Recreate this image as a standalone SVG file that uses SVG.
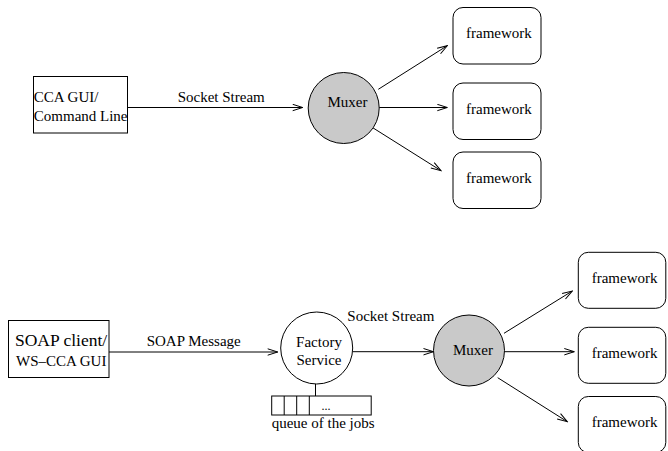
<svg xmlns="http://www.w3.org/2000/svg" width="668" height="451" viewBox="0 0 668 451">
<style>
text{font-family:"Liberation Serif","Times New Roman",serif;font-size:15px;fill:#000}
.box{fill:#fff;stroke:#000;stroke-width:1}
.mux{fill:#c9c9c9;stroke:#000;stroke-width:1}
.fac{fill:#fff;stroke:#000;stroke-width:1}
.ln{stroke:#000;stroke-width:1;fill:none}
.arr{stroke:#000;stroke-width:1;fill:none;marker-end:url(#ah)}
</style>
<defs>
<marker id="ah" markerWidth="12" markerHeight="8" viewBox="-11 -4 12 8" refX="0" refY="0" orient="auto" markerUnits="userSpaceOnUse">
<path d="M-10,-3.2 L0,0 L-10,3.2" fill="none" stroke="#000" stroke-width="1"/>
</marker>
</defs>
<rect width="668" height="451" fill="#fff"/>
<g id="connectors">
<line class="arr" x1="127.7" y1="107.5" x2="302.7" y2="107.5"/>
<line class="arr" x1="378.3" y1="89.3" x2="447.3" y2="45.7"/>
<line class="arr" x1="379.2" y1="107.5" x2="447.3" y2="107.5"/>
<line class="arr" x1="372.7" y1="127.7" x2="441" y2="170.7"/>
<line class="arr" x1="109" y1="352" x2="277.7" y2="352"/>
<line class="arr" x1="352.5" y1="351.7" x2="433.5" y2="351.7"/>
<line class="arr" x1="504" y1="333.3" x2="572.3" y2="291"/>
<line class="arr" x1="504.5" y1="351.7" x2="574.3" y2="351.7"/>
<line class="arr" x1="497.7" y1="377.7" x2="567.3" y2="421.7"/>
<line class="ln" x1="315.5" y1="384" x2="315.5" y2="396"/>
</g>
<g id="labels">
<text x="177.7" y="102">Socket Stream</text>
<text x="146.7" y="346">SOAP Message</text>
<text x="347.3" y="321">Socket Stream</text>
</g>
<g id="cca-gui">
<rect class="box" x="33.5" y="76.5" width="94" height="56.5"/>
<text x="33.8" y="101.7">CCA GUI/</text>
<text x="33.8" y="120.7">Command Line</text>
</g>
<g id="muxer1">
<circle class="mux" cx="343.7" cy="108" r="35.5"/>
<text x="347.5" y="106.7" text-anchor="middle">Muxer</text>
</g>
<g id="framework1">
<rect class="box" x="453" y="7.5" width="88" height="56.5" rx="10"/>
<text x="466" y="38">framework</text>
</g>
<g id="framework2">
<rect class="box" x="453" y="83" width="88" height="56.5" rx="10"/>
<text x="466" y="114.3">framework</text>
</g>
<g id="framework3">
<rect class="box" x="453" y="152" width="88" height="56.5" rx="10"/>
<text x="466" y="183.3">framework</text>
</g>
<g id="soap-client">
<rect class="box" x="8.5" y="320.5" width="100.5" height="57"/>
<text x="15" y="346" style="font-size:17.5px">SOAP client/</text>
<text x="16" y="365.5">WS–CCA GUI</text>
</g>
<g id="factory">
<circle class="fac" cx="316.7" cy="348" r="36"/>
<text x="319" y="346.5" text-anchor="middle">Factory</text>
<text x="319" y="365" text-anchor="middle">Service</text>
</g>
<g id="queue">
<rect class="box" x="271.7" y="396" width="99.5" height="19"/>
<line class="ln" x1="284.2" y1="396" x2="284.2" y2="415"/>
<line class="ln" x1="296.7" y1="396" x2="296.7" y2="415"/>
<line class="ln" x1="309.3" y1="396" x2="309.3" y2="415"/>
<text x="321.5" y="410" style="font-size:12px">...</text>
<text x="271.7" y="428">queue of the jobs</text>
</g>
<g id="muxer2">
<circle class="mux" cx="469" cy="350.5" r="35.5"/>
<text x="473" y="354.5" text-anchor="middle">Muxer</text>
</g>
<g id="framework4">
<rect class="box" x="578.3" y="252.3" width="87.5" height="56" rx="10"/>
<text x="591.7" y="283.3">framework</text>
</g>
<g id="framework5">
<rect class="box" x="578.3" y="327.3" width="87.5" height="56" rx="10"/>
<text x="591.7" y="358.3">framework</text>
</g>
<g id="framework6">
<rect class="box" x="578.3" y="396.5" width="87.5" height="56" rx="10"/>
<text x="591.7" y="427.3">framework</text>
</g>
</svg>
